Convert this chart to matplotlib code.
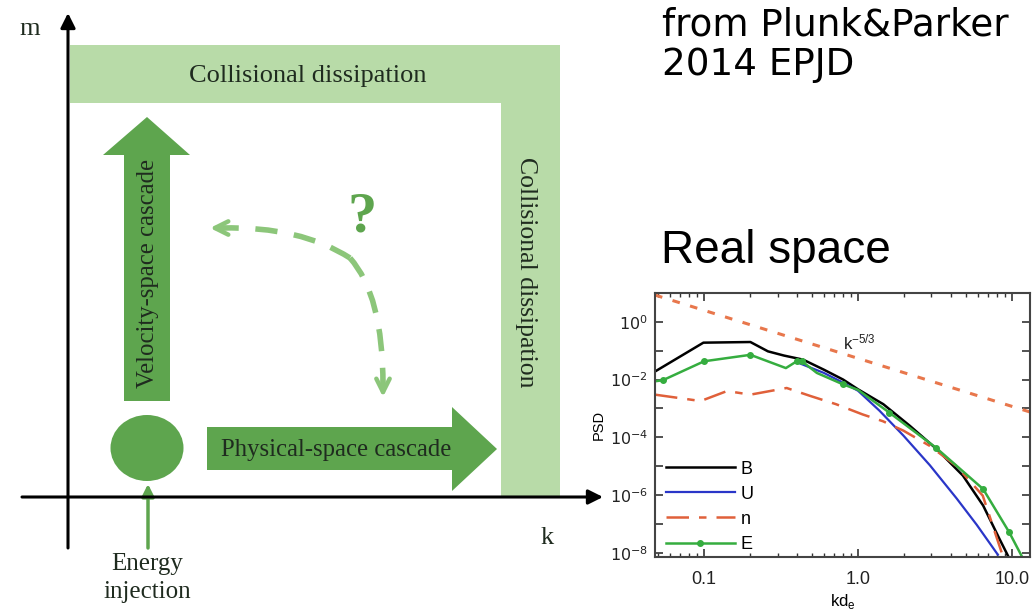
import matplotlib
matplotlib.use("Agg")
import matplotlib.pyplot as plt
from matplotlib.patches import Polygon, Ellipse, PathPatch
from matplotlib.path import Path
import numpy as np

# ---------------- data (PSD panel) ----------------
k_B = [0.048, 0.099, 0.2, 0.26, 0.33, 0.44, 0.6, 0.8, 1.0, 1.46, 2.17, 3.24, 4.8, 6.5, 8.3, 9.4]
P_B = [1.9e-2, 0.19, 0.2, 9.5e-2, 6.8e-2, 4.9e-2, 2.2e-2, 1.0e-2, 4.6e-3, 1.4e-3, 2.5e-4,
       3.9e-5, 4.7e-6, 4.3e-7, 3.0e-8, 8e-9]

k_U = [0.40, 0.6, 0.8, 1.0, 1.38, 1.97, 2.93, 4.37, 5.9, 8.1]
P_U = [4.0e-2, 1.7e-2, 7.8e-3, 4.1e-3, 8.3e-4, 1.15e-4, 1.07e-5, 7.6e-7, 9.3e-8, 8.5e-9]

k_n = [0.048, 0.095, 0.141, 0.2, 0.344, 0.49, 0.72, 1.07, 1.45, 1.97, 2.93, 4.37, 6.46, 8.7]
P_n = [3.0e-3, 1.8e-3, 4.0e-3, 3.0e-3, 5.1e-3, 2.7e-3, 1.4e-3, 6.2e-4, 3.6e-4, 1.7e-4,
       5.0e-5, 1.0e-5, 9.5e-7, 8e-9]

k_E = [0.048, 0.054, 0.1, 0.2, 0.34, 0.40, 0.43, 0.54, 0.80, 1.0, 1.6, 3.2, 6.5, 9.6, 11.5]
P_E = [8.7e-3, 9.5e-3, 4.3e-2, 7.2e-2, 2.5e-2, 4.3e-2, 4.4e-2, 1.7e-2, 6.8e-3, 4.4e-3,
       7.1e-4, 4.4e-5, 1.6e-6, 5.1e-8, 8.1e-9]
E_markers = [1, 2, 3, 5, 6, 8, 10, 11, 12, 13]

k_ref = [0.048, 13.0]
P_ref = [8.5, 7.6e-4]

series_labels = ["B", "U", "n", "E"]
x_ticks = [0.1, 1.0, 10.0]
x_ticklabels = ["0.1", "1.0", "10.0"]
y_ticklabels = [r"$10^{0}$", r"$10^{-2}$", r"$10^{-4}$", r"$10^{-6}$", r"$10^{-8}$"]

# ---------------- figure ----------------
W, H = 1035, 613
fig = plt.figure(figsize=(W / 100, H / 100), dpi=100)
fig.patch.set_facecolor("white")

ax0 = fig.add_axes([0, 0, 1, 1])
ax0.set_xlim(0, W)
ax0.set_ylim(H, 0)
ax0.axis("off")

green = "#5ea54e"
light = "#b8dba8"
dashg = "#8cc67a"
txtc = "#1f2b1f"
serif = ["Liberation Serif", "DejaVu Serif"]
sans = ["Liberation Sans", "DejaVu Sans"]

# collisional dissipation bands
ax0.add_patch(Polygon([(70, 45), (560, 45), (560, 497), (501, 497), (501, 103), (70, 103)],
                      closed=True, facecolor=light, edgecolor="none", zorder=1))
ax0.text(308, 76, "Collisional dissipation", fontsize=19, family=serif, color=txtc,
         ha="center", va="center", zorder=3)
ax0.text(526, 272, "Collisional dissipation", fontsize=18.5, family=serif, color=txtc,
         ha="center", va="center", rotation=-90, zorder=3)

# axes of the diagram
ax0.annotate("", xy=(68, 13), xytext=(68, 548),
             arrowprops=dict(arrowstyle="-|>", color="black", lw=2.2, mutation_scale=22,
                             shrinkA=0, shrinkB=0), zorder=4)
ax0.annotate("", xy=(603, 497), xytext=(22, 497),
             arrowprops=dict(arrowstyle="-|>", color="black", lw=2.2, mutation_scale=22,
                             shrinkA=0, shrinkB=0), zorder=4)
ax0.text(30, 29, "m", fontsize=19, family=serif, color=txtc, ha="center", va="center")
ax0.text(547, 538, "k", fontsize=19, family=serif, color=txtc, ha="center", va="center")

# velocity-space arrow
ax0.add_patch(Polygon([(124, 401), (170, 401), (170, 155), (190, 155), (147, 117),
                       (103, 155), (124, 155)], closed=True, facecolor=green,
                      edgecolor="none", zorder=2))
ax0.text(148, 274, "Velocity-space cascade", fontsize=17.8, family=serif, color=txtc,
         ha="center", va="center", rotation=90, zorder=3)

# physical-space arrow
ax0.add_patch(Polygon([(207, 427), (452, 427), (452, 407), (497, 449), (452, 491),
                       (452, 470), (207, 470)], closed=True, facecolor=green,
                      edgecolor="none", zorder=2))
ax0.text(336, 450, "Physical-space cascade", fontsize=17.8, family=serif, color=txtc,
         ha="center", va="center", zorder=3)

# injection blob
ax0.add_patch(Ellipse((147, 448), 73, 66, facecolor=green, edgecolor="none", zorder=2))
ax0.annotate("", xy=(148, 484), xytext=(148, 548),
             arrowprops=dict(arrowstyle="-|>", color=green, lw=2.5, mutation_scale=18,
                             shrinkA=0, shrinkB=0), zorder=3)
ax0.text(147, 564, "Energy", fontsize=18, family=serif, color=txtc, ha="center", va="center")
ax0.text(147, 592, "injection", fontsize=18, family=serif, color=txtc, ha="center", va="center")

# dashed curved arrows and question mark
c1 = Path([(350, 258), (300, 226), (222, 228)], [Path.MOVETO, Path.CURVE3, Path.CURVE3])
c2 = Path([(350, 258), (383, 295), (383, 385)], [Path.MOVETO, Path.CURVE3, Path.CURVE3])
for c in (c1, c2):
    ax0.add_patch(PathPatch(c, facecolor="none", edgecolor=dashg, lw=4,
                            linestyle=(0, (4, 3)), zorder=2))
ax0.annotate("", xy=(210, 228), xytext=(226, 228),
             arrowprops=dict(arrowstyle="->", color=dashg, lw=3.2, mutation_scale=24,
                             shrinkA=0, shrinkB=0), zorder=2)
ax0.annotate("", xy=(383, 397), xytext=(383, 380),
             arrowprops=dict(arrowstyle="->", color=dashg, lw=3.2, mutation_scale=24,
                             shrinkA=0, shrinkB=0), zorder=2)
ax0.text(362, 218, "?", fontsize=42, family=serif, fontweight="bold", color=green,
         ha="center", va="center", zorder=3)

# right-hand texts
ax0.text(662, 35, "from Plunk&Parker", fontsize=26.8, family="DejaVu Sans", color="black",
         ha="left", va="baseline")
ax0.text(662, 75, "2014 EPJD", fontsize=26.8, family="DejaVu Sans", color="black",
         ha="left", va="baseline")
ax0.text(661, 263, "Real space", fontsize=33, family=sans, color="black",
         ha="left", va="baseline")

# ---------------- PSD panel ----------------
L, R, T, B = 655, 1030, 293, 557
ax = fig.add_axes([L / W, 1 - B / H, (R - L) / W, (B - T) / H])
ax.set_xscale("log")
ax.set_yscale("log")
ax.set_xlim(0.048, 13.1)
ax.set_ylim(10 ** -8.15, 10 ** 1.0)

ax.plot(k_ref, P_ref, color="#e8774c", lw=2.2, linestyle=(0, (2.5, 3.5)))
lB, = ax.plot(k_B, P_B, color="black", lw=1.8)
lU, = ax.plot(k_U, P_U, color="#2a36c8", lw=1.6)
ln, = ax.plot(k_n, P_n, color="#e0603a", lw=1.8, dashes=(9, 4, 3, 4))
lE, = ax.plot(k_E, P_E, color="#35ad3f", lw=1.8, marker="o", ms=4,
              markevery=E_markers)
ax.text(0.80, 0.19, r"$\mathregular{k^{-5/3}}$", fontsize=12, color="#222222",
        ha="left", va="center", family=sans)

ax.legend([lB, lU, ln, lE], series_labels, loc="lower left", frameon=False,
          handlelength=3.8, labelspacing=0.45, borderaxespad=0.0, borderpad=0.3,
          handletextpad=0.35, prop={"family": sans, "size": 13},
          bbox_to_anchor=(0.015, -0.005))

ax.set_xticks(x_ticks)
ax.set_xticklabels(x_ticklabels)
ax.set_yticks([10.0 ** e for e in range(-8, 1)], minor=False)
ax.set_yticklabels([y_ticklabels[(-e) // 2] if e % 2 == 0 else "" for e in range(-8, 1)])
ax.yaxis.set_minor_locator(matplotlib.ticker.NullLocator())
ax.xaxis.set_minor_locator(matplotlib.ticker.LogLocator(base=10, subs=np.arange(2, 10)))
ax.xaxis.set_minor_formatter(matplotlib.ticker.NullFormatter())
ax.tick_params(which="both", direction="in", top=True, right=True, colors="#333333",
               labelcolor="#222222")
ax.tick_params(axis="x", which="major", length=6, width=1.2, labelsize=13, pad=10)
ax.tick_params(axis="x", which="minor", length=3, width=1.0)
ax.tick_params(axis="y", which="major", length=6, width=1.2, labelsize=11.5, pad=5)
for lab in ax.get_xticklabels() + ax.get_yticklabels():
    lab.set_family(sans)
for s in ax.spines.values():
    s.set_color("#444444")
    s.set_linewidth(1.5)
ax.set_xlabel(r"kd$_\mathregular{e}$", fontsize=12, labelpad=3, family=sans)
ax.set_ylabel("PSD", fontsize=10.5, labelpad=3, family=sans)

fig.savefig("out.png", dpi=100)
